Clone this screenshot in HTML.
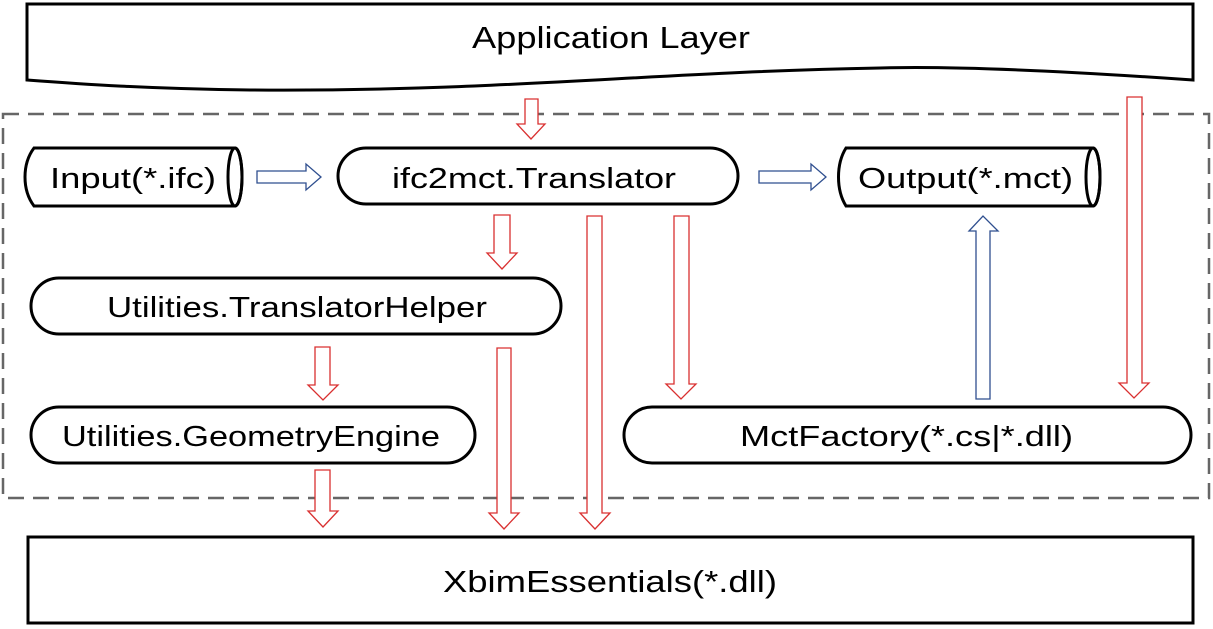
<!DOCTYPE html>
<html><head><meta charset="utf-8"><style>
html,body{margin:0;padding:0;background:#fff;}
svg{display:block;}
text{font-family:"Liberation Sans",sans-serif;fill:#000;}
</style></head><body>
<svg width="1213" height="629" viewBox="0 0 1213 629" xmlns="http://www.w3.org/2000/svg">
<path d="M27,4 H1193 V80 C1050,70 950,66 880,68 C650,72 500,92 250,90 C150,89 80,84 27,80 Z" fill="#fff" stroke="#000" stroke-width="3"/>
<text x="472" y="48" font-size="31" textLength="278" lengthAdjust="spacingAndGlyphs">Application Layer</text>
<rect x="3" y="114" width="1206" height="384" fill="none" stroke="#666" stroke-width="2.5" stroke-dasharray="16,9"/>
<path d="M34,148 H235 A7,29 0 0 1 235,206 H34 C22,190 22,164 34,148 Z" fill="#fff" stroke="#000" stroke-width="3"/>
<ellipse cx="235" cy="177" rx="7" ry="29" fill="none" stroke="#000" stroke-width="3"/>
<text x="50" y="188" font-size="29" textLength="166" lengthAdjust="spacingAndGlyphs">Input(*.ifc)</text>
<rect x="338" y="148" width="400" height="56" rx="28" fill="#fff" stroke="#000" stroke-width="3"/>
<text x="392" y="188" font-size="29" textLength="284" lengthAdjust="spacingAndGlyphs">ifc2mct.Translator</text>
<path d="M846,148 H1093 A7,29 0 0 1 1093,206 H846 C836,190 836,164 846,148 Z" fill="#fff" stroke="#000" stroke-width="3"/>
<ellipse cx="1093" cy="177" rx="7" ry="29" fill="none" stroke="#000" stroke-width="3"/>
<text x="858" y="188" font-size="29" textLength="215" lengthAdjust="spacingAndGlyphs">Output(*.mct)</text>
<rect x="31" y="278" width="530" height="56" rx="28" fill="#fff" stroke="#000" stroke-width="3"/>
<text x="107" y="317" font-size="29" textLength="380" lengthAdjust="spacingAndGlyphs">Utilities.TranslatorHelper</text>
<rect x="31" y="407" width="444" height="56" rx="28" fill="#fff" stroke="#000" stroke-width="3"/>
<text x="62" y="446" font-size="29" textLength="378" lengthAdjust="spacingAndGlyphs">Utilities.GeometryEngine</text>
<rect x="624" y="407" width="567" height="56" rx="28" fill="#fff" stroke="#000" stroke-width="3"/>
<text x="740" y="446" font-size="29" textLength="333" lengthAdjust="spacingAndGlyphs">MctFactory(*.cs|*.dll)</text>
<rect x="28" y="537" width="1165" height="86" fill="#fff" stroke="#000" stroke-width="3"/>
<text x="443" y="592" font-size="31" textLength="334" lengthAdjust="spacingAndGlyphs">XbimEssentials(*.dll)</text>
<g fill="#fff" stroke="#2f4f8f" stroke-width="1.3">
<path d="M257,171 H306 V164 L321,177 L306,190 V183 H257 Z"/>
<path d="M759,171 H811 V164 L826,177 L811,190 V183 H759 Z"/>
<path d="M976,399 V231 H969 L983,216 L998,231 H990 V399 Z"/>
</g>
<g fill="#fff" stroke="#d93030" stroke-width="1.3">
<path d="M525,99 H538 V124 H545 L531,139 L517,124 H525 Z"/>
<path d="M1127,97 H1142 V383 H1149 L1134,398 L1119,383 H1127 Z"/>
<path d="M494,215 H510 V253 H517 L502,269 L487,253 H494 Z"/>
<path d="M587,216 H602 V513 H610 L595,529 L580,513 H587 Z"/>
<path d="M674,216 H689 V384 H696 L681,399 L666,384 H674 Z"/>
<path d="M315,347 H330 V385 H338 L323,400 L308,385 H315 Z"/>
<path d="M497,348 H511 V513 H519 L504,529 L489,513 H497 Z"/>
<path d="M315,470 H330 V511 H338 L323,527 L308,511 H315 Z"/>
</g>
</svg>
</body></html>
